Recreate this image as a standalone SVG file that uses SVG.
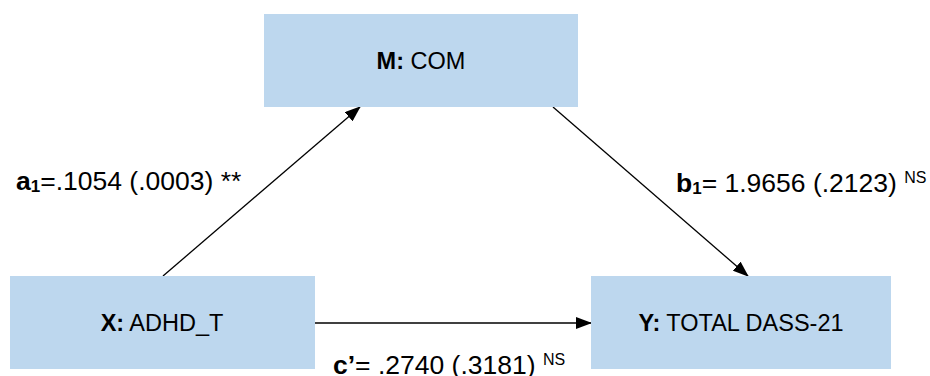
<svg xmlns="http://www.w3.org/2000/svg" width="930" height="376" viewBox="0 0 930 376">
<style>
.box{fill:#BDD7EE;}
.t{font-family:"Liberation Sans",Arial,sans-serif;fill:#000;}
.bt{font-size:23.5px;}
.lb{font-size:26.5px;}
.sub{font-size:17px;font-weight:bold;}
.sup{font-size:16px;}
.b{font-weight:bold;}
.edge{stroke:#000;stroke-width:1.3;fill:none;marker-end:url(#ah);}
</style>
<defs>
<marker id="ah" markerUnits="userSpaceOnUse" markerWidth="16" markerHeight="12" refX="15" refY="6" orient="auto">
<path d="M0,0 L16,6 L0,12 z" fill="#000"/>
</marker>
</defs>
<rect width="930" height="376" fill="#fff"/>
<g id="connectors">
<line class="edge" x1="163" y1="276" x2="360" y2="107"/>
<line class="edge" x1="553" y1="107" x2="748" y2="276"/>
<line class="edge" x1="315" y1="323" x2="591" y2="323"/>
</g>
<g id="node-M">
<rect class="box" x="264" y="14" width="314" height="93"/>
<text class="t bt" x="421" y="69" text-anchor="middle"><tspan class="b">M:</tspan> COM</text>
</g>
<g id="node-X">
<rect class="box" x="10" y="276" width="305" height="93"/>
<text class="t bt" x="162" y="331" text-anchor="middle"><tspan class="b">X:</tspan> ADHD_T</text>
</g>
<g id="node-Y">
<rect class="box" x="591" y="276" width="300" height="93"/>
<text class="t bt" x="741" y="331" text-anchor="middle"><tspan class="b">Y:</tspan> TOTAL DASS-21</text>
</g>
<g id="labels">
<text class="t lb" x="16" y="190"><tspan class="b">a</tspan><tspan class="sub" dy="2">1</tspan><tspan dy="-2">=.1054 (.0003) **</tspan></text>
<text class="t lb" x="676" y="192"><tspan class="b">b</tspan><tspan class="sub" dy="2">1</tspan><tspan dy="-2">= 1.9656 (.2123) </tspan><tspan class="sup" dy="-9">NS</tspan></text>
<text class="t lb" x="333" y="374"><tspan class="b">c’</tspan>= .2740 (.3181) <tspan class="sup" dy="-9">NS</tspan></text>
</g>
</svg>
